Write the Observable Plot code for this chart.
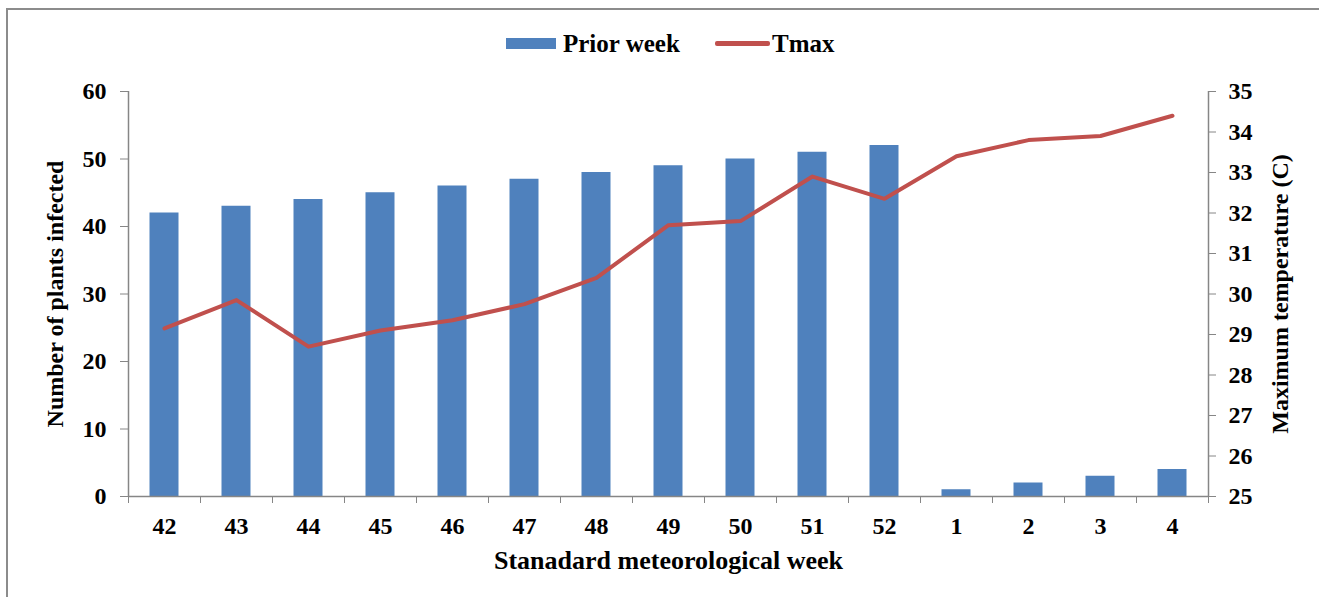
<!DOCTYPE html>
<html>
<head>
<meta charset="utf-8">
<script src="https://cdn.jsdelivr.net/npm/d3@7"></script>
<script src="https://cdn.jsdelivr.net/npm/@observablehq/plot@0.6"></script>
<style>
  html, body { margin: 0; padding: 0; background: #fff; overflow: hidden; width: 1319px; height: 597px; }
  #frame { position: absolute; left: 6px; top: 8px; width: 1400px; height: 700px; border: 2px solid #8c8c8c; box-sizing: border-box; }
  #legend { position: absolute; left: 0; top: 0; width: 1319px; height: 75px; font-family: "Liberation Serif", serif; font-weight: bold; font-size: 25px; color: #000; }
  .sw-bar { position: absolute; left: 506px; top: 38px; width: 50px; height: 11px; background: #4F81BD; }
  .sw-line { position: absolute; left: 715px; top: 41px; width: 55px; height: 5px; border-radius: 2px; background: #C0504D; }
  .lab { position: absolute; top: 29px; line-height: 30px; white-space: nowrap; }
  #chart { position: absolute; left: 0; top: 75px; }
</style>
</head>
<body>
<div id="frame"></div>
<div id="legend">
  <div class="sw-bar"></div><div class="lab" style="left:563px">Prior week</div>
  <div class="sw-line"></div><div class="lab" style="left:772px">Tmax</div>
</div>
<div id="chart"></div>
<script>
const weeks = ["42","43","44","45","46","47","48","49","50","51","52","1","2","3","4"];
const infected = [42,43,44,45,46,47,48,49,50,51,52,1,2,3,4];
const tmax = [29.15,29.85,28.7,29.1,29.35,29.75,30.4,31.7,31.8,32.9,32.35,33.4,33.8,33.9,34.4];
const leftTicks = [0,10,20,30,40,50,60];
const rightTicks = [25,26,27,28,29,30,31,32,33,34,35];
const tMin = 25, tMax = 35, cMax = 60;
const toLeft = t => (t - tMin) * cMax / (tMax - tMin);
const fromLeft = v => Math.round(v * (tMax - tMin) / cMax + tMin);

const data = weeks.map((w, i) => ({i, week: w, count: infected[i], t: tmax[i]}));
const gray = "#868686";

const chart = Plot.plot({
  width: 1319,
  height: 522,
  marginTop: 16,
  marginBottom: 101,
  marginLeft: 128,
  marginRight: 111,
  style: {fontFamily: "Liberation Serif", fontSize: "24px", fontWeight: "bold", color: "#000", background: "transparent"},
  x: {domain: [0, weeks.length], label: null},
  y: {domain: [0, cMax], label: null},
  marks: [
    Plot.rectY(data, {x1: d => d.i, x2: d => d.i + 1, y: "count", fill: "#4F81BD", insetLeft: 21.5, insetRight: 21.5}),
    Plot.ruleX([0, weeks.length], {stroke: gray, strokeWidth: 1.5}),
    Plot.ruleY([0], {stroke: gray, strokeWidth: 1.5}),
    Plot.line(data, {x: d => d.i + 0.5, y: d => toLeft(d.t), stroke: "#C0504D", strokeWidth: 4, strokeLinejoin: "round", strokeLinecap: "round"}),
    Plot.axisY({ticks: leftTicks, tickSize: 8, tickPadding: 14, stroke: gray, fill: "#000", label: null}),
    Plot.axisY({anchor: "right", ticks: rightTicks.map(toLeft), tickFormat: fromLeft, tickSize: 7, tickPadding: 13, stroke: gray, fill: "#000", label: null}),
    Plot.axisX({ticks: d3.range(weeks.length + 1), tickSize: 7, tickFormat: () => "", stroke: gray, label: null}),
    Plot.axisX({ticks: weeks.map((w, i) => i + 0.5), tickSize: 0, tickPadding: 20, tickFormat: d => weeks[Math.floor(d)], fill: "#000", label: null}),
    Plot.text(["Number of plants infected"], {text: d => d, frameAnchor: "left", textAnchor: "middle", lineAnchor: "middle", rotate: -90, dx: -73, fontSize: 24, fontWeight: "bold", fill: "#000"}),
    Plot.text(["Maximum temperature (C)"], {text: d => d, frameAnchor: "right", textAnchor: "middle", lineAnchor: "middle", rotate: -90, dx: 72, fontSize: 24, fontWeight: "bold", fill: "#000"}),
    Plot.text(["Stanadard meteorological week"], {text: d => d, frameAnchor: "bottom", textAnchor: "middle", lineAnchor: "middle", dy: 64, fontSize: 26, fontWeight: "bold", fill: "#000"})
  ]
});
document.getElementById("chart").appendChild(chart);
</script>
</body>
</html>
